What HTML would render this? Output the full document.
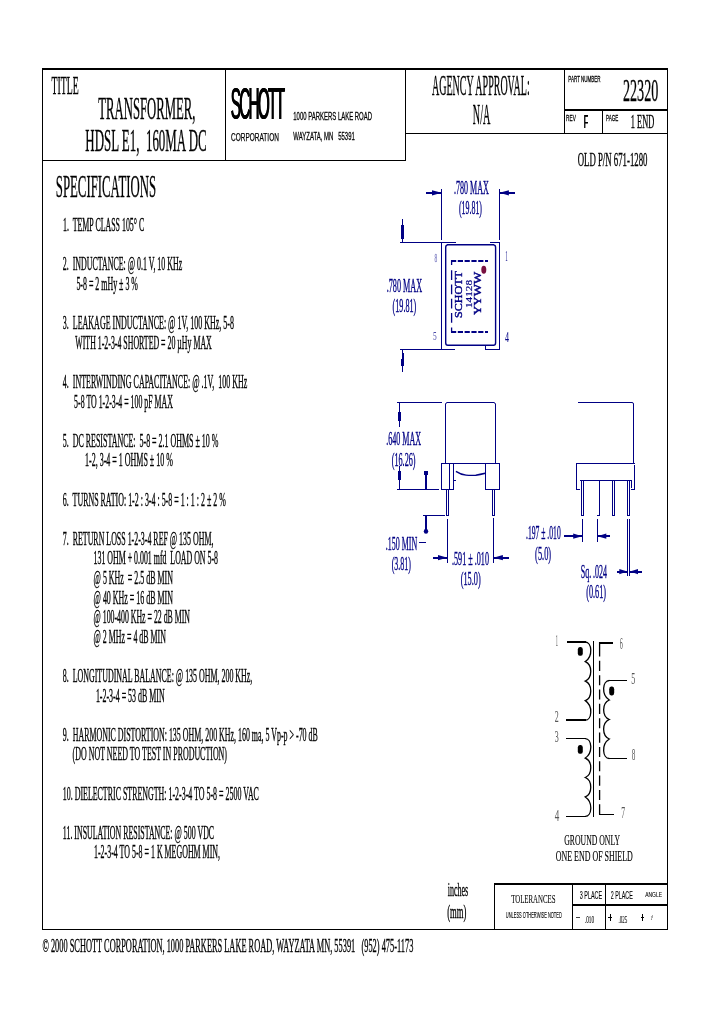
<!DOCTYPE html>
<html><head><meta charset="utf-8"><title>22320</title>
<style>
html,body{margin:0;padding:0;background:#fff;}
body{width:720px;height:1012px;overflow:hidden;font-family:"Liberation Serif",serif;}
svg{display:block;will-change:transform;transform:translateZ(0);}
text{white-space:pre;}
</style></head><body>
<svg width="720" height="1012" viewBox="0 0 720 1012">
<rect x="0" y="0" width="720" height="1012" fill="#fff"/>
<defs><mask id="dm" maskUnits="userSpaceOnUse" x="450" y="255" width="40" height="80"><rect x="450" y="255" width="40" height="80" fill="#000"/><rect x="451.0" y="255" width="5.2" height="80" fill="#fff"/><rect x="457.8" y="255" width="5.2" height="80" fill="#fff"/><rect x="464.6" y="255" width="5.2" height="80" fill="#fff"/><rect x="471.4" y="255" width="5.2" height="80" fill="#fff"/><rect x="478.2" y="255" width="5.2" height="80" fill="#fff"/><rect x="485.0" y="255" width="5.2" height="80" fill="#fff"/></mask></defs>
<rect x="42" y="68" width="626" height="2" fill="#000" shape-rendering="crispEdges"/>
<rect x="42" y="929" width="626" height="1" fill="#000" shape-rendering="crispEdges"/>
<rect x="42" y="68" width="1" height="862" fill="#000" shape-rendering="crispEdges"/>
<rect x="667" y="68" width="1" height="862" fill="#000" shape-rendering="crispEdges"/>
<rect x="42" y="160" width="364" height="1" fill="#000" shape-rendering="crispEdges"/>
<rect x="225" y="68" width="1" height="93" fill="#000" shape-rendering="crispEdges"/>
<rect x="405" y="68" width="1" height="93" fill="#000" shape-rendering="crispEdges"/>
<rect x="405" y="133" width="263" height="1" fill="#000" shape-rendering="crispEdges"/>
<rect x="564" y="68" width="1" height="66" fill="#000" shape-rendering="crispEdges"/>
<rect x="564" y="109" width="104" height="2" fill="#000" shape-rendering="crispEdges"/>
<rect x="602" y="109" width="1" height="25" fill="#000" shape-rendering="crispEdges"/>
<rect x="494" y="883" width="174" height="2" fill="#000" shape-rendering="crispEdges"/>
<rect x="494" y="883" width="1.2" height="47" fill="#000" shape-rendering="crispEdges"/>
<rect x="572" y="883" width="1" height="47" fill="#000" shape-rendering="crispEdges"/>
<rect x="605" y="883" width="1" height="47" fill="#000" shape-rendering="crispEdges"/>
<rect x="572" y="904" width="96" height="2" fill="#000" shape-rendering="crispEdges"/>
<text x="51.5" y="94" font-size="25" font-family="Liberation Serif" fill="#000" textLength="27.1" lengthAdjust="spacingAndGlyphs"  stroke="#000" stroke-width="0.35">TITLE</text>
<text x="98.3" y="118.9" font-size="30.5" font-family="Liberation Serif" fill="#000" textLength="97.2" lengthAdjust="spacingAndGlyphs"  stroke="#000" stroke-width="0.35">TRANSFORMER,</text>
<text x="85.3" y="151.1" font-size="31.5" font-family="Liberation Serif" fill="#000" textLength="121.4" lengthAdjust="spacingAndGlyphs"  stroke="#000" stroke-width="0.35">HDSL E1,  160MA DC</text>
<text x="230.5" y="118.5" font-size="44" font-family="Liberation Sans" fill="#000" textLength="52.4" lengthAdjust="spacingAndGlyphs" letter-spacing="-5" stroke="#000" stroke-width="0.2">SCHOTT</text>
<text x="230.8" y="118.5" font-size="44" font-family="Liberation Sans" fill="#000" textLength="52.4" lengthAdjust="spacingAndGlyphs" letter-spacing="-5" stroke="#000" stroke-width="0.2">SCHOTT</text>
<text x="231.1" y="118.5" font-size="44" font-family="Liberation Sans" fill="#000" textLength="52.4" lengthAdjust="spacingAndGlyphs" letter-spacing="-5" stroke="#000" stroke-width="0.2">SCHOTT</text>
<text x="231" y="141.3" font-size="10.8" font-family="Liberation Sans" fill="#000" textLength="47.9" lengthAdjust="spacingAndGlyphs"  stroke="#000" stroke-width="0.25">CORPORATION</text>
<text x="293.3" y="119.6" font-size="11.6" font-family="Liberation Sans" fill="#000" textLength="78.7" lengthAdjust="spacingAndGlyphs"  stroke="#000" stroke-width="0.3">1000 PARKERS LAKE ROAD</text>
<text x="293.3" y="139.7" font-size="11.6" font-family="Liberation Sans" fill="#000" textLength="61.5" lengthAdjust="spacingAndGlyphs"  stroke="#000" stroke-width="0.3">WAYZATA, MN   55391</text>
<text x="432" y="94.7" font-size="29.5" font-family="Liberation Serif" fill="#000" textLength="97.7" lengthAdjust="spacingAndGlyphs"  stroke="#000" stroke-width="0.35">AGENCY APPROVAL:</text>
<text x="472.8" y="124.4" font-size="30" font-family="Liberation Serif" fill="#000" textLength="17.5" lengthAdjust="spacingAndGlyphs"  stroke="#000" stroke-width="0.35">N/A</text>
<text x="568.3" y="81.6" font-size="9.2" font-family="Liberation Sans" fill="#000" textLength="32.3" lengthAdjust="spacingAndGlyphs"  stroke="#000" stroke-width="0.3">PART NUMBER</text>
<text x="622.9" y="100.6" font-size="31.5" font-family="Liberation Serif" fill="#000" textLength="35.4" lengthAdjust="spacingAndGlyphs"  stroke="#000" stroke-width="0.35">22320</text>
<text x="566.1" y="120.8" font-size="9.5" font-family="Liberation Sans" fill="#000" textLength="9.7" lengthAdjust="spacingAndGlyphs"  stroke="#000" stroke-width="0.3">REV</text>
<text x="583.68" y="127.7" font-size="17.7" font-family="Liberation Sans" fill="#000" textLength="4.3" lengthAdjust="spacingAndGlyphs"  stroke="#000" stroke-width="0">F</text>
<text x="583.9" y="127.7" font-size="17.7" font-family="Liberation Sans" fill="#000" textLength="4.3" lengthAdjust="spacingAndGlyphs"  stroke="#000" stroke-width="0">F</text>
<text x="584.12" y="127.7" font-size="17.7" font-family="Liberation Sans" fill="#000" textLength="4.3" lengthAdjust="spacingAndGlyphs"  stroke="#000" stroke-width="0">F</text>
<text x="606" y="120.8" font-size="9.5" font-family="Liberation Sans" fill="#000" textLength="12.3" lengthAdjust="spacingAndGlyphs"  stroke="#000" stroke-width="0.3">PAGE</text>
<text x="630.8" y="128" font-size="18.5" font-family="Liberation Serif" fill="#000" textLength="23.4" lengthAdjust="spacingAndGlyphs"  stroke="#000" stroke-width="0.35">1 END</text>
<text x="577.7" y="166.3" font-size="18.3" font-family="Liberation Serif" fill="#000" textLength="69.8" lengthAdjust="spacingAndGlyphs"  stroke="#000" stroke-width="0.35">OLD P/N 671-1280</text>
<text x="55.8" y="197" font-size="31" font-family="Liberation Serif" fill="#000" textLength="100.3" lengthAdjust="spacingAndGlyphs"  stroke="#000" stroke-width="0.35">SPECIFICATIONS</text>
<text x="63" y="231.1" font-size="18" font-family="Liberation Serif" fill="#000" textLength="81.2" lengthAdjust="spacingAndGlyphs"  stroke="#000" stroke-width="0.35">1.  TEMP CLASS 105° C</text>
<text x="62.8" y="270.3" font-size="18" font-family="Liberation Serif" fill="#000" textLength="119.4" lengthAdjust="spacingAndGlyphs"  stroke="#000" stroke-width="0.35">2.  INDUCTANCE: @ 0.1 V, 10 KHz</text>
<text x="76.4" y="289.9" font-size="18" font-family="Liberation Serif" fill="#000" textLength="61.5" lengthAdjust="spacingAndGlyphs"  stroke="#000" stroke-width="0.35">5-8 = 2 mHy ± 3 %</text>
<text x="62.8" y="329.1" font-size="18" font-family="Liberation Serif" fill="#000" textLength="171.2" lengthAdjust="spacingAndGlyphs"  stroke="#000" stroke-width="0.35">3.  LEAKAGE INDUCTANCE: @ 1V, 100 KHz, 5-8</text>
<text x="75.3" y="348.7" font-size="18" font-family="Liberation Serif" fill="#000" textLength="136.5" lengthAdjust="spacingAndGlyphs"  stroke="#000" stroke-width="0.35">WITH 1-2-3-4 SHORTED = 20 µHy MAX</text>
<text x="62.8" y="387.9" font-size="18" font-family="Liberation Serif" fill="#000" textLength="184.4" lengthAdjust="spacingAndGlyphs"  stroke="#000" stroke-width="0.35">4.  INTERWINDING CAPACITANCE: @ .1V,  100 KHz</text>
<text x="74.1" y="407.5" font-size="18" font-family="Liberation Serif" fill="#000" textLength="98.8" lengthAdjust="spacingAndGlyphs"  stroke="#000" stroke-width="0.35">5-8 TO 1-2-3-4 = 100 pF MAX</text>
<text x="62.8" y="446.7" font-size="18" font-family="Liberation Serif" fill="#000" textLength="155.6" lengthAdjust="spacingAndGlyphs"  stroke="#000" stroke-width="0.35">5.  DC RESISTANCE:  5-8 = 2.1 OHMS ± 10 %</text>
<text x="85" y="466.3" font-size="18" font-family="Liberation Serif" fill="#000" textLength="87.9" lengthAdjust="spacingAndGlyphs"  stroke="#000" stroke-width="0.35">1-2, 3-4 = 1 OHMS ± 10 %</text>
<text x="62.8" y="505.5" font-size="18" font-family="Liberation Serif" fill="#000" textLength="163.0" lengthAdjust="spacingAndGlyphs"  stroke="#000" stroke-width="0.35">6.  TURNS RATIO: 1-2 : 3-4 : 5-8 = 1 : 1 : 2 ± 2 %</text>
<text x="62.8" y="544.7" font-size="18" font-family="Liberation Serif" fill="#000" textLength="150.6" lengthAdjust="spacingAndGlyphs"  stroke="#000" stroke-width="0.35">7.  RETURN LOSS 1-2-3-4 REF @ 135 OHM,</text>
<text x="93.6" y="564.3" font-size="18" font-family="Liberation Serif" fill="#000" textLength="124.4" lengthAdjust="spacingAndGlyphs"  stroke="#000" stroke-width="0.35">131 OHM + 0.001 mfd  LOAD ON 5-8</text>
<text x="93.6" y="583.9" font-size="18" font-family="Liberation Serif" fill="#000" textLength="79.3" lengthAdjust="spacingAndGlyphs"  stroke="#000" stroke-width="0.35">@ 5 KHz  = 2.5 dB MIN</text>
<text x="93.6" y="603.5" font-size="18" font-family="Liberation Serif" fill="#000" textLength="79.3" lengthAdjust="spacingAndGlyphs"  stroke="#000" stroke-width="0.35">@ 40 KHz = 16 dB MIN</text>
<text x="93.6" y="623.1" font-size="18" font-family="Liberation Serif" fill="#000" textLength="96.4" lengthAdjust="spacingAndGlyphs"  stroke="#000" stroke-width="0.35">@ 100-400 KHz = 22 dB MIN</text>
<text x="93.6" y="642.7" font-size="18" font-family="Liberation Serif" fill="#000" textLength="72.3" lengthAdjust="spacingAndGlyphs"  stroke="#000" stroke-width="0.35">@ 2 MHz = 4 dB MIN</text>
<text x="62.8" y="681.9" font-size="18" font-family="Liberation Serif" fill="#000" textLength="189.5" lengthAdjust="spacingAndGlyphs"  stroke="#000" stroke-width="0.35">8.  LONGITUDINAL BALANCE: @ 135 OHM, 200 KHz,</text>
<text x="95.9" y="701.5" font-size="18" font-family="Liberation Serif" fill="#000" textLength="68.8" lengthAdjust="spacingAndGlyphs"  stroke="#000" stroke-width="0.35">1-2-3-4 = 53 dB MIN</text>
<text x="62.8" y="740.7" font-size="18" font-family="Liberation Serif" fill="#000" textLength="255.0" lengthAdjust="spacingAndGlyphs"  stroke="#000" stroke-width="0.35">9.  HARMONIC DISTORTION: 135 OHM, 200 KHz, 160 ma, 5 Vp-p &gt; -70 dB</text>
<text x="72.6" y="760.3" font-size="18" font-family="Liberation Serif" fill="#000" textLength="154.4" lengthAdjust="spacingAndGlyphs"  stroke="#000" stroke-width="0.35">(DO NOT NEED TO TEST IN PRODUCTION)</text>
<text x="62.8" y="799.5" font-size="18" font-family="Liberation Serif" fill="#000" textLength="196.1" lengthAdjust="spacingAndGlyphs"  stroke="#000" stroke-width="0.35">10. DIELECTRIC STRENGTH: 1-2-3-4 TO 5-8 = 2500 VAC</text>
<text x="62.8" y="838.7" font-size="18" font-family="Liberation Serif" fill="#000" textLength="151.3" lengthAdjust="spacingAndGlyphs"  stroke="#000" stroke-width="0.35">11. INSULATION RESISTANCE: @ 500 VDC</text>
<text x="94" y="858.3" font-size="18" font-family="Liberation Serif" fill="#000" textLength="126" lengthAdjust="spacingAndGlyphs"  stroke="#000" stroke-width="0.35">1-2-3-4 TO 5-8 = 1 K MEGOHM MIN,</text>
<text x="42.5" y="951.8" font-size="19.5" font-family="Liberation Serif" fill="#000" textLength="370.8" lengthAdjust="spacingAndGlyphs"  stroke="#000" stroke-width="0.35">© 2000 SCHOTT CORPORATION, 1000 PARKERS LAKE ROAD, WAYZATA MN, 55391   (952) 475-1173</text>
<text x="447.7" y="895.8" font-size="19.8" font-family="Liberation Serif" fill="#000" textLength="20.5" lengthAdjust="spacingAndGlyphs"  stroke="#000" stroke-width="0.35">inches</text>
<text x="447.2" y="918" font-size="18" font-family="Liberation Serif" fill="#000" textLength="19.1" lengthAdjust="spacingAndGlyphs"  stroke="#000" stroke-width="0.35">(mm)</text>
<text x="511.2" y="902.9" font-size="13" font-family="Liberation Serif" fill="#000" textLength="44.3" lengthAdjust="spacingAndGlyphs"  stroke="#000" stroke-width="0.1">TOLERANCES</text>
<text x="505.8" y="918.4" font-size="8.8" font-family="Liberation Sans" fill="#000" textLength="56.0" lengthAdjust="spacingAndGlyphs"  stroke="#000" stroke-width="0.1">UNLESS OTHERWISE NOTED</text>
<text x="579.8" y="898.6" font-size="10" font-family="Liberation Sans" fill="#000" textLength="22.3" lengthAdjust="spacingAndGlyphs"  stroke="#000" stroke-width="0.1">3 PLACE</text>
<text x="610.8" y="898.6" font-size="10" font-family="Liberation Sans" fill="#000" textLength="21.9" lengthAdjust="spacingAndGlyphs"  stroke="#000" stroke-width="0.1">2 PLACE</text>
<text x="645.2" y="896.6" font-size="8" font-family="Liberation Sans" fill="#000" textLength="16.8" lengthAdjust="spacingAndGlyphs"  stroke="#000" stroke-width="0.1">ANGLE</text>
<line x1="576" y1="917.5" x2="580" y2="917.5" stroke="#444" stroke-width="1"  shape-rendering="crispEdges"/>
<text x="584.9" y="923.4" font-size="10.5" font-family="Liberation Serif" fill="#000" textLength="9.1" lengthAdjust="spacingAndGlyphs"  stroke="#000" stroke-width="0.1">.010</text>
<line x1="608" y1="917.5" x2="612" y2="917.5" stroke="#000" stroke-width="1"  shape-rendering="crispEdges"/>
<line x1="610.5" y1="914" x2="610.5" y2="921" stroke="#000" stroke-width="1"  shape-rendering="crispEdges"/>
<text x="618.5" y="923.4" font-size="10.5" font-family="Liberation Serif" fill="#000" textLength="8.8" lengthAdjust="spacingAndGlyphs"  stroke="#000" stroke-width="0.1">.025</text>
<line x1="641" y1="917.5" x2="644" y2="917.5" stroke="#000" stroke-width="1"  shape-rendering="crispEdges"/>
<line x1="642.5" y1="914" x2="642.5" y2="921" stroke="#000" stroke-width="1"  shape-rendering="crispEdges"/>
<text x="650.8" y="919.6" font-size="6" font-family="Liberation Serif" fill="#000" textLength="2.2" lengthAdjust="spacingAndGlyphs"  stroke="#000" stroke-width="0.1">1°</text>
<line x1="441.5" y1="189" x2="441.5" y2="240" stroke="#000084" stroke-width="1"  shape-rendering="crispEdges"/>
<line x1="499.5" y1="189" x2="499.5" y2="240" stroke="#000084" stroke-width="1"  shape-rendering="crispEdges"/>
<rect x="426" y="192" width="15.5" height="2" fill="#000084" shape-rendering="crispEdges"/>
<polygon points="441.5,192.8 432.0,190.20000000000002 432.0,195.4" fill="#000084"/>
<rect x="499.4" y="192" width="15.5" height="2" fill="#000084" shape-rendering="crispEdges"/>
<polygon points="499.4,192.8 508.9,190.20000000000002 508.9,195.4" fill="#000084"/>
<text x="454" y="193.5" font-size="18.5" font-family="Liberation Serif" fill="#000084" textLength="34.8" lengthAdjust="spacingAndGlyphs"  stroke="#000084" stroke-width="0.35">.780 MAX</text>
<text x="458.9" y="213.9" font-size="18.5" font-family="Liberation Serif" fill="#000084" textLength="23.1" lengthAdjust="spacingAndGlyphs"  stroke="#000084" stroke-width="0.35">(19.81)</text>
<line x1="400" y1="242.5" x2="456" y2="242.5" stroke="#000084" stroke-width="1"  shape-rendering="crispEdges"/>
<line x1="400" y1="349.5" x2="455" y2="349.5" stroke="#000084" stroke-width="1"  shape-rendering="crispEdges"/>
<line x1="402.5" y1="219" x2="402.5" y2="242" stroke="#000084" stroke-width="1"  shape-rendering="crispEdges"/>
<rect x="401" y="225" width="3" height="14" fill="#000084" shape-rendering="crispEdges"/>
<line x1="402.5" y1="372" x2="402.5" y2="349" stroke="#000084" stroke-width="1"  shape-rendering="crispEdges"/>
<rect x="401" y="359" width="3" height="7" fill="#000084" shape-rendering="crispEdges"/>
<rect x="402" y="353" width="2" height="6" fill="#000084" shape-rendering="crispEdges"/>
<text x="386.7" y="291.8" font-size="18.5" font-family="Liberation Serif" fill="#000084" textLength="35.5" lengthAdjust="spacingAndGlyphs"  stroke="#000084" stroke-width="0.35">.780 MAX</text>
<text x="392.6" y="311.6" font-size="18.5" font-family="Liberation Serif" fill="#000084" textLength="23.7" lengthAdjust="spacingAndGlyphs"  stroke="#000084" stroke-width="0.35">(19.81)</text>
<line x1="441.5" y1="242" x2="441.5" y2="350" stroke="#000084" stroke-width="1"  shape-rendering="crispEdges"/>
<line x1="499.5" y1="243" x2="499.5" y2="350" stroke="#000084" stroke-width="1"  shape-rendering="crispEdges"/>
<line x1="490" y1="242.5" x2="500" y2="242.5" stroke="#000084" stroke-width="1"  shape-rendering="crispEdges"/>
<line x1="485" y1="349.5" x2="500" y2="349.5" stroke="#000084" stroke-width="1"  shape-rendering="crispEdges"/>
<line x1="485.5" y1="345" x2="485.5" y2="350" stroke="#000084" stroke-width="1"  shape-rendering="crispEdges"/>
<rect x="445.7" y="244.9" width="49.9" height="100.4" rx="2.2" ry="2.6" fill="none" stroke="#000084" stroke-width="1.4"/>
<rect x="447" y="244" width="47" height="1" fill="#000084" shape-rendering="crispEdges"/>
<rect x="451" y="260" width="37" height="2" fill="#000084" shape-rendering="crispEdges" mask="url(#dm)"/>
<rect x="451" y="331" width="37" height="2" fill="#000084" shape-rendering="crispEdges" mask="url(#dm)"/>
<line x1="451.6" y1="260.3" x2="451.6" y2="332.2" stroke="#000084" stroke-width="1.3" stroke-dasharray="4.7 5.2 9.7 4.6 9.7 4.6 9.7 4.6 9.7 4.6 5 0"/>
<ellipse cx="483.8" cy="269.7" rx="2.5" ry="4" fill="#781040"/>
<text transform="translate(462.3,318) rotate(-90)" x="0" y="0" font-size="11" font-family="Liberation Serif" fill="#000084" stroke="#000084" stroke-width="0.4" textLength="47" lengthAdjust="spacingAndGlyphs">SCHOTT</text>
<text transform="translate(471.9,308) rotate(-90)" x="0" y="0" font-size="9.2" font-family="Liberation Serif" fill="#000084" stroke="#000084" stroke-width="0.2" textLength="28" lengthAdjust="spacingAndGlyphs">14128</text>
<text transform="translate(481.4,315) rotate(-90)" x="0" y="0" font-size="9.5" font-family="Liberation Serif" fill="#000084" stroke="#000084" stroke-width="0.4" textLength="43.2" lengthAdjust="spacingAndGlyphs">YYWW</text>
<text x="434.5" y="262" font-size="12" font-family="Liberation Serif" fill="#8a8ac8" textLength="2.7" lengthAdjust="spacingAndGlyphs"  stroke="#8a8ac8" stroke-width="0.35">8</text>
<text x="433" y="340" font-size="13.5" font-family="Liberation Serif" fill="#4a4aa8" textLength="3.7" lengthAdjust="spacingAndGlyphs"  stroke="#4a4aa8" stroke-width="0">5</text>
<text x="505.4" y="260.7" font-size="14.8" font-family="Liberation Serif" fill="#000084" textLength="2.0" lengthAdjust="spacingAndGlyphs"  stroke="#000084" stroke-width="0.1">1</text>
<text x="505" y="341.8" font-size="14" font-family="Liberation Serif" fill="#000084" textLength="4" lengthAdjust="spacingAndGlyphs"  stroke="#000084" stroke-width="0.05">4</text>
<line x1="397" y1="402.5" x2="442" y2="402.5" stroke="#000084" stroke-width="1"  shape-rendering="crispEdges"/>
<line x1="445.5" y1="404" x2="445.5" y2="464" stroke="#000084" stroke-width="1"  shape-rendering="crispEdges"/>
<line x1="495.5" y1="404" x2="495.5" y2="464" stroke="#000084" stroke-width="1"  shape-rendering="crispEdges"/>
<line x1="447" y1="402.5" x2="494" y2="402.5" stroke="#000084" stroke-width="1"  shape-rendering="crispEdges"/>
<path d="M445.5,404.5 Q445.5,402.5 447.5,402.5" stroke="#000084" stroke-width="1" fill="none" />
<path d="M493.5,402.5 Q495.5,402.5 495.5,404.5" stroke="#000084" stroke-width="1" fill="none" />
<line x1="441" y1="463.5" x2="500" y2="463.5" stroke="#000084" stroke-width="1"  shape-rendering="crispEdges"/>
<line x1="441.5" y1="463" x2="441.5" y2="490" stroke="#000084" stroke-width="1"  shape-rendering="crispEdges"/>
<line x1="449.5" y1="463" x2="449.5" y2="490" stroke="#000084" stroke-width="1"  shape-rendering="crispEdges"/>
<line x1="453.5" y1="463" x2="453.5" y2="490" stroke="#000084" stroke-width="1"  shape-rendering="crispEdges"/>
<line x1="441" y1="489.5" x2="454" y2="489.5" stroke="#000084" stroke-width="1"  shape-rendering="crispEdges"/>
<line x1="485.5" y1="463" x2="485.5" y2="490" stroke="#000084" stroke-width="1"  shape-rendering="crispEdges"/>
<line x1="499.5" y1="463" x2="499.5" y2="490" stroke="#000084" stroke-width="1"  shape-rendering="crispEdges"/>
<line x1="485" y1="489.5" x2="500" y2="489.5" stroke="#000084" stroke-width="1"  shape-rendering="crispEdges"/>
<path d="M455.9,471.3 Q461,474.6 466,475.1 Q471,475.6 475.8,475.2 Q480,474.6 485.3,473.3" stroke="#000084" stroke-width="1.4" fill="none" />
<line x1="453" y1="480.5" x2="456" y2="480.5" stroke="#000084" stroke-width="1"  shape-rendering="crispEdges"/>
<line x1="446.5" y1="490" x2="446.5" y2="516" stroke="#000084" stroke-width="1"  shape-rendering="crispEdges"/>
<line x1="448.5" y1="490" x2="448.5" y2="516" stroke="#000084" stroke-width="1"  shape-rendering="crispEdges"/>
<line x1="446" y1="515.5" x2="449" y2="515.5" stroke="#000084" stroke-width="1"  shape-rendering="crispEdges"/>
<line x1="492.5" y1="490" x2="492.5" y2="516" stroke="#000084" stroke-width="1"  shape-rendering="crispEdges"/>
<line x1="494.5" y1="490" x2="494.5" y2="516" stroke="#000084" stroke-width="1"  shape-rendering="crispEdges"/>
<line x1="492" y1="515.5" x2="495" y2="515.5" stroke="#000084" stroke-width="1"  shape-rendering="crispEdges"/>
<line x1="399.5" y1="427" x2="399.5" y2="403" stroke="#000084" stroke-width="1"  shape-rendering="crispEdges"/>
<rect x="398" y="412" width="3" height="9" fill="#000084" shape-rendering="crispEdges"/>
<line x1="399.5" y1="466" x2="399.5" y2="490" stroke="#000084" stroke-width="1"  shape-rendering="crispEdges"/>
<rect x="398" y="471" width="3" height="9" fill="#000084" shape-rendering="crispEdges"/>
<line x1="397" y1="489.5" x2="439" y2="489.5" stroke="#000084" stroke-width="1"  shape-rendering="crispEdges"/>
<text x="386.2" y="444.8" font-size="18.5" font-family="Liberation Serif" fill="#000084" textLength="35.0" lengthAdjust="spacingAndGlyphs"  stroke="#000084" stroke-width="0.35">.640 MAX</text>
<text x="391.7" y="465.8" font-size="18.5" font-family="Liberation Serif" fill="#000084" textLength="23.9" lengthAdjust="spacingAndGlyphs"  stroke="#000084" stroke-width="0.35">(16.26)</text>
<rect x="425" y="471" width="2" height="18.6" fill="#000084" shape-rendering="crispEdges"/>
<rect x="424" y="471" width="4" height="3.6" fill="#000084" shape-rendering="crispEdges"/>
<line x1="423" y1="515.5" x2="445" y2="515.5" stroke="#000084" stroke-width="1"  shape-rendering="crispEdges"/>
<rect x="425" y="515" width="2" height="18" fill="#000084" shape-rendering="crispEdges"/>
<ellipse cx="426" cy="531.2" rx="2.2" ry="2.5" fill="#000084"/>
<text x="385.8" y="550.1" font-size="18.5" font-family="Liberation Serif" fill="#000084" textLength="31.4" lengthAdjust="spacingAndGlyphs"  stroke="#000084" stroke-width="0.35">.150 MIN</text>
<line x1="419" y1="542.5" x2="426" y2="542.5" stroke="#000084" stroke-width="1"  shape-rendering="crispEdges"/>
<text x="391.7" y="569.7" font-size="18.5" font-family="Liberation Serif" fill="#000084" textLength="19.3" lengthAdjust="spacingAndGlyphs"  stroke="#000084" stroke-width="0.35">(3.81)</text>
<line x1="447.5" y1="519" x2="447.5" y2="563" stroke="#000084" stroke-width="1"  shape-rendering="crispEdges"/>
<line x1="493.5" y1="518" x2="493.5" y2="563" stroke="#000084" stroke-width="1"  shape-rendering="crispEdges"/>
<rect x="432.5" y="557" width="15.0" height="2" fill="#000084" shape-rendering="crispEdges"/>
<polygon points="447.5,557.7 438.0,555.1 438.0,560.3000000000001" fill="#000084"/>
<rect x="493.4" y="557" width="15.300000000000011" height="2" fill="#000084" shape-rendering="crispEdges"/>
<polygon points="493.4,557.7 502.9,555.1 502.9,560.3000000000001" fill="#000084"/>
<text x="452" y="564.9" font-size="18.5" font-family="Liberation Serif" fill="#000084" textLength="37" lengthAdjust="spacingAndGlyphs"  stroke="#000084" stroke-width="0.35">.591 ± .010</text>
<text x="460.7" y="585.3" font-size="18.5" font-family="Liberation Serif" fill="#000084" textLength="20.0" lengthAdjust="spacingAndGlyphs"  stroke="#000084" stroke-width="0.35">(15.0)</text>
<line x1="578" y1="402.5" x2="632" y2="402.5" stroke="#000084" stroke-width="1"  shape-rendering="crispEdges"/>
<line x1="633.5" y1="404" x2="633.5" y2="464" stroke="#000084" stroke-width="1"  shape-rendering="crispEdges"/>
<path d="M632,402.5 Q633.5,402.5 633.5,404" stroke="#000084" stroke-width="1" fill="none" />
<line x1="576" y1="463.5" x2="635" y2="463.5" stroke="#000084" stroke-width="1"  shape-rendering="crispEdges"/>
<line x1="576.5" y1="463" x2="576.5" y2="490" stroke="#000084" stroke-width="1"  shape-rendering="crispEdges"/>
<line x1="576" y1="489.5" x2="580" y2="489.5" stroke="#000084" stroke-width="1"  shape-rendering="crispEdges"/>
<line x1="634.5" y1="465" x2="634.5" y2="490" stroke="#000084" stroke-width="1"  shape-rendering="crispEdges"/>
<line x1="631" y1="489.5" x2="635" y2="489.5" stroke="#000084" stroke-width="1"  shape-rendering="crispEdges"/>
<line x1="580" y1="480.5" x2="632" y2="480.5" stroke="#000084" stroke-width="1"  shape-rendering="crispEdges"/>
<line x1="631.5" y1="480" x2="631.5" y2="488" stroke="#000084" stroke-width="1"  shape-rendering="crispEdges"/>
<line x1="581.5" y1="480" x2="581.5" y2="516" stroke="#000084" stroke-width="1"  shape-rendering="crispEdges"/>
<line x1="583.5" y1="480" x2="583.5" y2="516" stroke="#000084" stroke-width="1"  shape-rendering="crispEdges"/>
<line x1="581" y1="515.5" x2="584" y2="515.5" stroke="#000084" stroke-width="1"  shape-rendering="crispEdges"/>
<line x1="599.5" y1="480" x2="599.5" y2="516" stroke="#000084" stroke-width="1"  shape-rendering="crispEdges"/>
<line x1="597" y1="515.5" x2="600" y2="515.5" stroke="#000084" stroke-width="1"  shape-rendering="crispEdges"/>
<line x1="612.5" y1="480" x2="612.5" y2="516" stroke="#000084" stroke-width="1"  shape-rendering="crispEdges"/>
<line x1="614.5" y1="480" x2="614.5" y2="516" stroke="#000084" stroke-width="1"  shape-rendering="crispEdges"/>
<line x1="612" y1="515.5" x2="615" y2="515.5" stroke="#000084" stroke-width="1"  shape-rendering="crispEdges"/>
<line x1="627.5" y1="480" x2="627.5" y2="516" stroke="#000084" stroke-width="1"  shape-rendering="crispEdges"/>
<line x1="629.5" y1="480" x2="629.5" y2="516" stroke="#000084" stroke-width="1"  shape-rendering="crispEdges"/>
<line x1="627" y1="515.5" x2="630" y2="515.5" stroke="#000084" stroke-width="1"  shape-rendering="crispEdges"/>
<line x1="582.5" y1="519" x2="582.5" y2="542" stroke="#000084" stroke-width="1"  shape-rendering="crispEdges"/>
<line x1="597.5" y1="519" x2="597.5" y2="542" stroke="#000084" stroke-width="1"  shape-rendering="crispEdges"/>
<line x1="627.5" y1="519" x2="627.5" y2="576" stroke="#000084" stroke-width="1"  shape-rendering="crispEdges"/>
<line x1="629.5" y1="519" x2="629.5" y2="576" stroke="#000084" stroke-width="1"  shape-rendering="crispEdges"/>
<rect x="564" y="535" width="18.200000000000045" height="2" fill="#000084" shape-rendering="crispEdges"/>
<polygon points="582.2,536.2 573.2,533.6 573.2,538.8000000000001" fill="#000084"/>
<rect x="597.3" y="535" width="12.900000000000091" height="2" fill="#000084" shape-rendering="crispEdges"/>
<polygon points="597.3,536.2 606.3,533.6 606.3,538.8000000000001" fill="#000084"/>
<text x="526" y="538.9" font-size="18.5" font-family="Liberation Serif" fill="#000084" textLength="34.7" lengthAdjust="spacingAndGlyphs"  stroke="#000084" stroke-width="0.35">.197 ± .010</text>
<text x="535.1" y="560" font-size="18.5" font-family="Liberation Serif" fill="#000084" textLength="16.0" lengthAdjust="spacingAndGlyphs"  stroke="#000084" stroke-width="0.35">(5.0)</text>
<rect x="616.7" y="571" width="10.599999999999909" height="2" fill="#000084" shape-rendering="crispEdges"/>
<polygon points="627.3,571.6 619.3,569.0 619.3,574.2" fill="#000084"/>
<rect x="630" y="571" width="11.600000000000023" height="2" fill="#000084" shape-rendering="crispEdges"/>
<polygon points="630,571.6 638,569.0 638,574.2" fill="#000084"/>
<text x="580.7" y="578.2" font-size="18.5" font-family="Liberation Serif" fill="#000084" textLength="26.4" lengthAdjust="spacingAndGlyphs"  stroke="#000084" stroke-width="0.35">Sq. .024</text>
<text x="586.2" y="597.8" font-size="18.5" font-family="Liberation Serif" fill="#000084" textLength="19.8" lengthAdjust="spacingAndGlyphs"  stroke="#000084" stroke-width="0.35">(0.61)</text>
<rect x="567" y="641" width="19" height="2" fill="#000" shape-rendering="crispEdges"/>
<path d="M585.3,642 C591.74,642 593.42,656.076 585.3,661.55 C592.5799999999999,664.678 592.5799999999999,677.972 585.3,681.0999999999999 C592.5799999999999,684.228 592.5799999999999,697.5219999999999 585.3,700.6499999999999 C593.42,706.1239999999999 591.74,720.1999999999998 585.3,720.1999999999998" stroke="#000" stroke-width="1.3" fill="none" stroke-linejoin="miter"/>
<rect x="566" y="719" width="19.5" height="2" fill="#000" shape-rendering="crispEdges"/>
<rect x="566" y="738" width="19.5" height="1.3" fill="#000" shape-rendering="crispEdges"/>
<path d="M585.3,738.6 C591.74,738.6 593.42,752.604 585.3,758.0500000000001 C592.5799999999999,761.162 592.5799999999999,774.388 585.3,777.5000000000001 C592.5799999999999,780.6120000000001 592.5799999999999,793.8380000000001 585.3,796.9500000000002 C593.42,802.3960000000002 591.74,816.4000000000002 585.3,816.4000000000002" stroke="#000" stroke-width="1.3" fill="none" stroke-linejoin="miter"/>
<rect x="566" y="816" width="19.5" height="1.3" fill="#000" shape-rendering="crispEdges"/>
<rect x="593" y="641" width="1.2" height="176" fill="#000" shape-rendering="crispEdges"/>
<rect x="599" y="642" width="14" height="2" fill="#000" shape-rendering="crispEdges"/>
<line x1="599.6" y1="642" x2="599.6" y2="814.5" stroke="#000" stroke-width="1.3" stroke-dasharray="14.4 4.4 10.1 4.25 10.1 4.25 10.1 4.25 10.1 4.25 10.1 4.25 10.1 4.25 10.1 4.25 10.1 4.25 10.1 4.25 10.1 4.25 10.1 4.25"/>
<rect x="599" y="813.6" width="15" height="1.3" fill="#000" shape-rendering="crispEdges"/>
<rect x="609" y="680" width="18" height="1.2" fill="#000" shape-rendering="crispEdges"/>
<path d="M609.3,680.5 C602.63,680.5 600.89,694.54 609.3,700.0 C601.76,703.12 601.76,716.38 609.3,719.5 C601.76,722.62 601.76,735.88 609.3,739.0 C600.89,744.46 602.63,758.5 609.3,758.5" stroke="#000" stroke-width="1.3" fill="none" stroke-linejoin="miter"/>
<rect x="609" y="758" width="18" height="1.2" fill="#000" shape-rendering="crispEdges"/>
<rect x="577.8" y="647.0" width="5" height="8.8" rx="2" ry="2.6" fill="#000"/>
<rect x="609.2" y="686.6" width="5" height="8.8" rx="2" ry="2.6" fill="#000"/>
<rect x="577.8" y="745.0" width="5" height="8.8" rx="2" ry="2.6" fill="#000"/>
<text x="555.7" y="645.8" font-size="17.5" font-family="Liberation Serif" fill="#555" textLength="2.2" lengthAdjust="spacingAndGlyphs"  stroke="#555" stroke-width="0">1</text>
<text x="619.7" y="649" font-size="17.5" font-family="Liberation Serif" fill="#555" textLength="3.0" lengthAdjust="spacingAndGlyphs"  stroke="#555" stroke-width="0">6</text>
<text x="631.3" y="683.8" font-size="17.5" font-family="Liberation Serif" fill="#555" textLength="4.0" lengthAdjust="spacingAndGlyphs"  stroke="#555" stroke-width="0">5</text>
<text x="554.7" y="721.7" font-size="17.5" font-family="Liberation Serif" fill="#555" textLength="4.0" lengthAdjust="spacingAndGlyphs"  stroke="#555" stroke-width="0">2</text>
<text x="554.7" y="741.7" font-size="17.5" font-family="Liberation Serif" fill="#555" textLength="4.0" lengthAdjust="spacingAndGlyphs"  stroke="#555" stroke-width="0">3</text>
<text x="631.7" y="760.3" font-size="17.5" font-family="Liberation Serif" fill="#555" textLength="3.6" lengthAdjust="spacingAndGlyphs"  stroke="#555" stroke-width="0">8</text>
<text x="621.2" y="817.7" font-size="17.5" font-family="Liberation Serif" fill="#555" textLength="3.8" lengthAdjust="spacingAndGlyphs"  stroke="#555" stroke-width="0">7</text>
<text x="554.7" y="821.3" font-size="17.5" font-family="Liberation Serif" fill="#555" textLength="4.5" lengthAdjust="spacingAndGlyphs"  stroke="#555" stroke-width="0">4</text>
<text x="564.2" y="845.4" font-size="14" font-family="Liberation Serif" fill="#000" textLength="55.8" lengthAdjust="spacingAndGlyphs"  stroke="#000" stroke-width="0.15">GROUND ONLY</text>
<text x="555.8" y="860.9" font-size="14" font-family="Liberation Serif" fill="#000" textLength="77.0" lengthAdjust="spacingAndGlyphs"  stroke="#000" stroke-width="0.15">ONE END OF SHIELD</text>
</svg>
</body></html>
